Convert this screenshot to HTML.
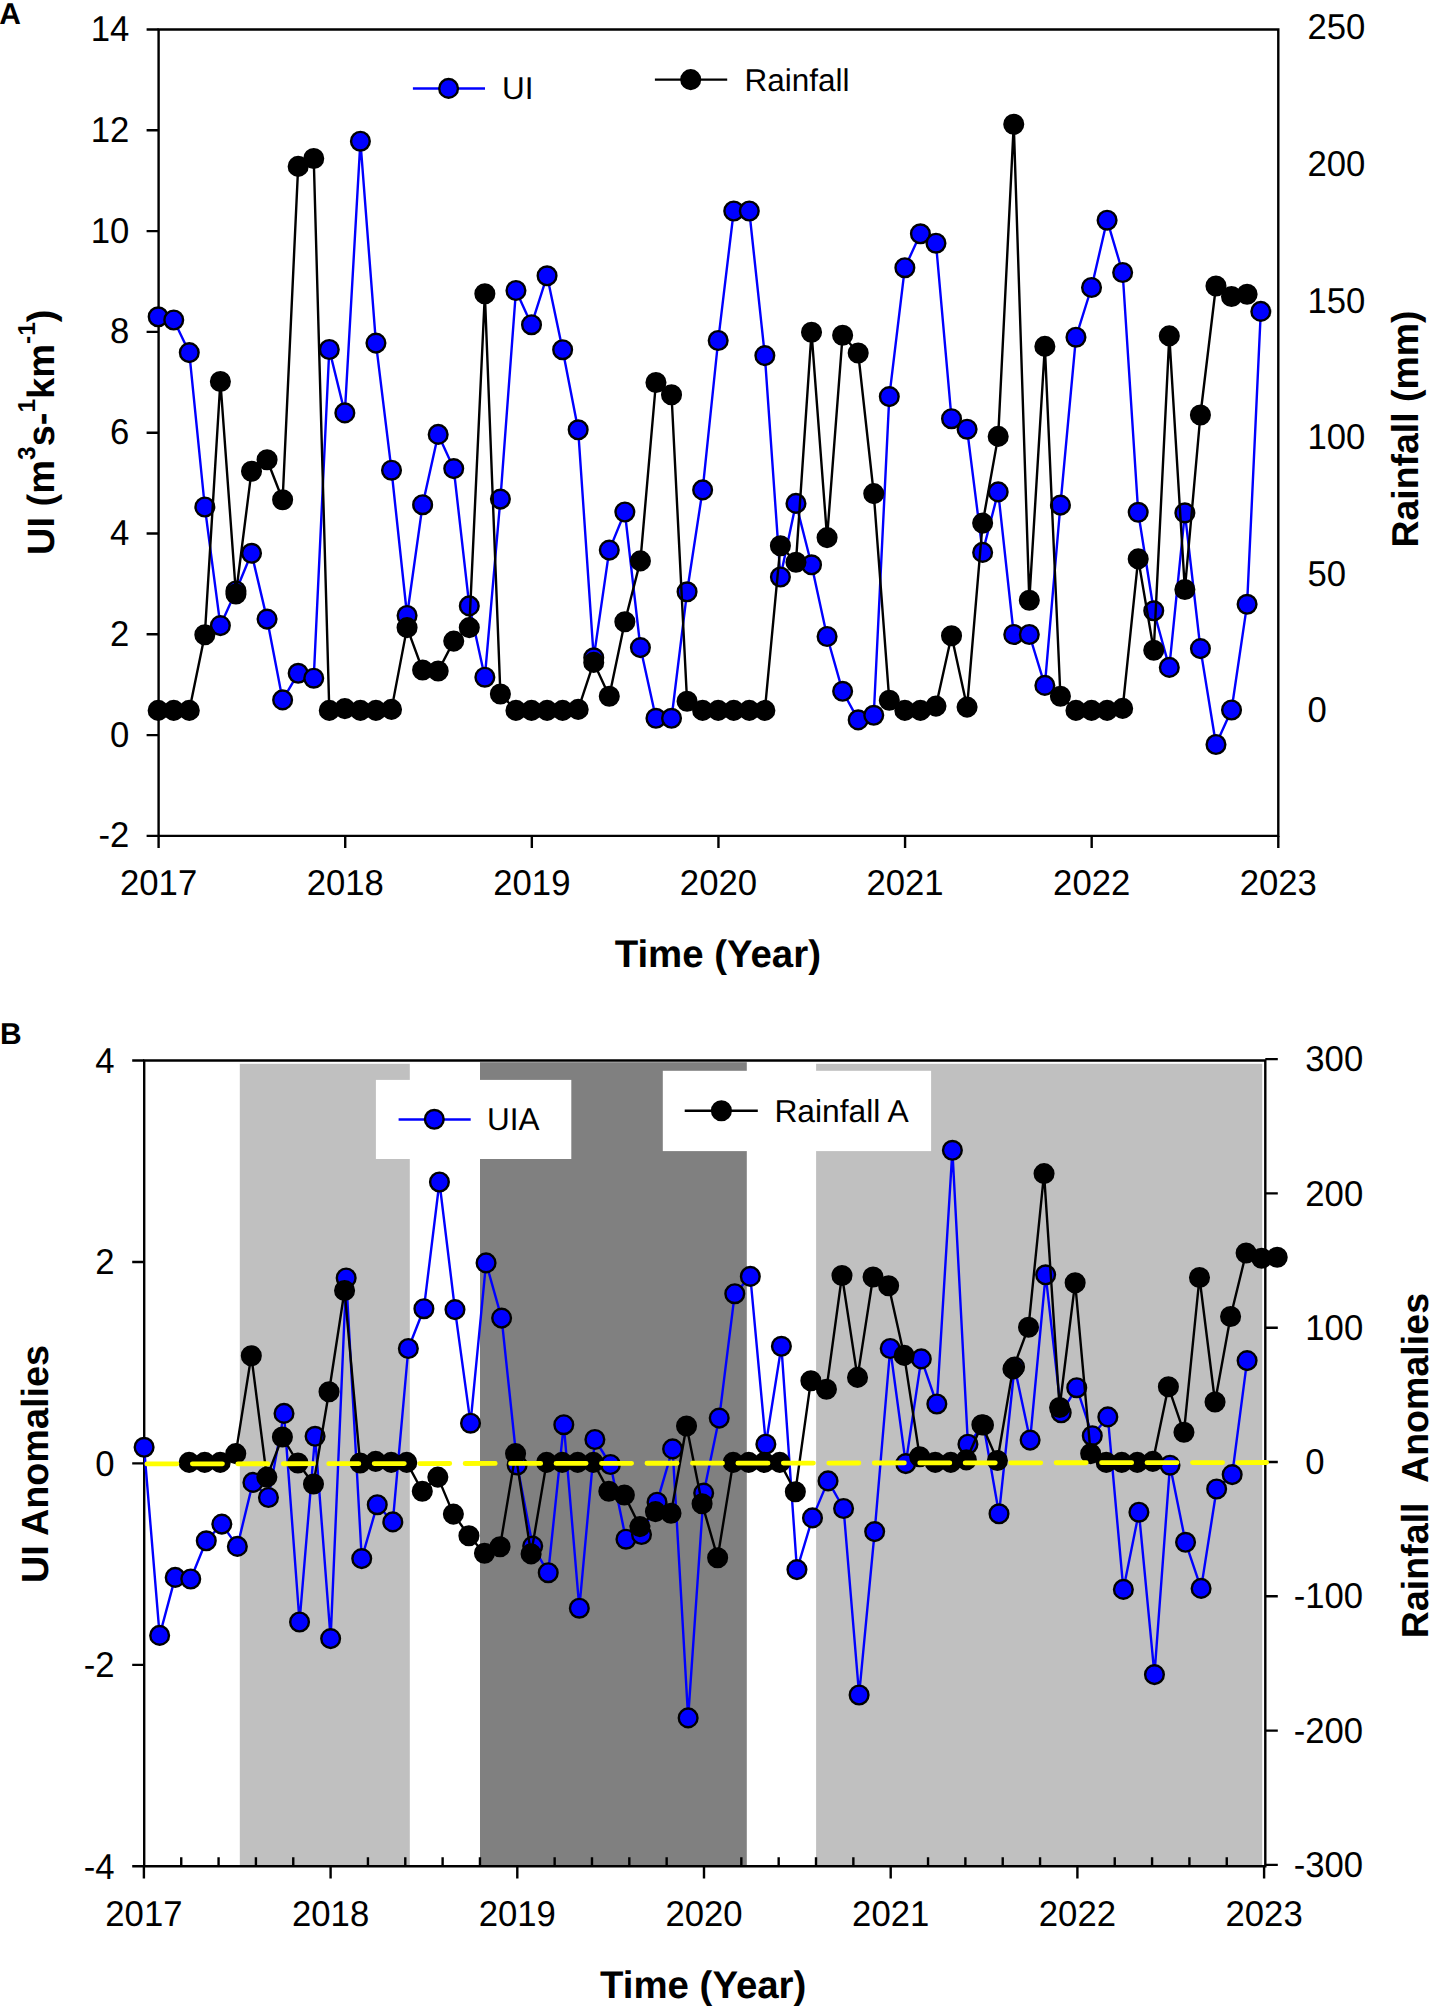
<!DOCTYPE html>
<html><head><meta charset="utf-8"><title>UI and Rainfall</title>
<style>
html,body{margin:0;padding:0;background:#fff;width:1431px;height:2009px;overflow:hidden;}
svg{display:block;}
text{font-family:"Liberation Sans",sans-serif;fill:#000;text-rendering:geometricPrecision;}
</style></head><body>
<svg width="1431" height="2009" viewBox="0 0 1431 2009">
<rect width="1431" height="2009" fill="#fff"/>
<path fill="none" stroke="#000" stroke-width="2.4" stroke-linecap="square" d="M158.6 29.5H1278.3V835.9H158.6Z"/>
<text transform="translate(129.4 40.9) scale(1 1.035)" font-size="34.7" text-anchor="end">14</text>
<text transform="translate(129.4 141.7) scale(1 1.035)" font-size="34.7" text-anchor="end">12</text>
<text transform="translate(129.4 242.5) scale(1 1.035)" font-size="34.7" text-anchor="end">10</text>
<text transform="translate(129.4 343.3) scale(1 1.035)" font-size="34.7" text-anchor="end">8</text>
<text transform="translate(129.4 444.1) scale(1 1.035)" font-size="34.7" text-anchor="end">6</text>
<text transform="translate(129.4 544.9) scale(1 1.035)" font-size="34.7" text-anchor="end">4</text>
<text transform="translate(129.4 645.7) scale(1 1.035)" font-size="34.7" text-anchor="end">2</text>
<text transform="translate(129.4 746.5) scale(1 1.035)" font-size="34.7" text-anchor="end">0</text>
<text transform="translate(129.4 847.3) scale(1 1.035)" font-size="34.7" text-anchor="end">-2</text>
<text transform="translate(158.6 895.4) scale(1 1.035)" font-size="34.7" text-anchor="middle">2017</text>
<text transform="translate(345.22 895.4) scale(1 1.035)" font-size="34.7" text-anchor="middle">2018</text>
<text transform="translate(531.83 895.4) scale(1 1.035)" font-size="34.7" text-anchor="middle">2019</text>
<text transform="translate(718.45 895.4) scale(1 1.035)" font-size="34.7" text-anchor="middle">2020</text>
<text transform="translate(905.07 895.4) scale(1 1.035)" font-size="34.7" text-anchor="middle">2021</text>
<text transform="translate(1091.68 895.4) scale(1 1.035)" font-size="34.7" text-anchor="middle">2022</text>
<text transform="translate(1278.3 895.4) scale(1 1.035)" font-size="34.7" text-anchor="middle">2023</text>
<path fill="none" stroke="#000" stroke-width="2.4" d="M146.6 29.5H158.6M146.6 130.3H158.6M146.6 231.1H158.6M146.6 331.9H158.6M146.6 432.7H158.6M146.6 533.5H158.6M146.6 634.3H158.6M146.6 735.1H158.6M146.6 835.9H158.6M158.6 835.9V848.1M345.22 835.9V848.1M531.83 835.9V848.1M718.45 835.9V848.1M905.07 835.9V848.1M1091.68 835.9V848.1M1278.3 835.9V848.1"/>
<text transform="translate(1307.5 39.2) scale(1 1.035)" font-size="34.7">250</text>
<text transform="translate(1307.5 175.85) scale(1 1.035)" font-size="34.7">200</text>
<text transform="translate(1307.5 312.5) scale(1 1.035)" font-size="34.7">150</text>
<text transform="translate(1307.5 449.15) scale(1 1.035)" font-size="34.7">100</text>
<text transform="translate(1307.5 585.8) scale(1 1.035)" font-size="34.7">50</text>
<text transform="translate(1307.5 722.45) scale(1 1.035)" font-size="34.7">0</text>
<text transform="translate(54.3,555) rotate(-90)" font-size="38" font-weight="bold">UI (m<tspan font-size="24.5" dy="-19.5">3</tspan><tspan dy="19.5">s-</tspan><tspan font-size="24.5" dy="-19.5">1</tspan><tspan dy="19.5">km</tspan><tspan font-size="24.5" dy="-19.5">-1</tspan><tspan dy="19.5">)</tspan></text>
<text transform="translate(1417.7,547.5) rotate(-90)" font-size="37.4" font-weight="bold">Rainfall (mm)</text>
<text x="717.8" y="967.3" font-size="38.4" text-anchor="middle" font-weight="bold">Time (Year)</text>
<text x="-0.7" y="23.9" font-size="30" font-weight="bold">A</text>
<line x1="412.9" y1="88.5" x2="485" y2="88.5" stroke="#0000ff" stroke-width="2.4"/>
<circle cx="448.6" cy="88.4" r="9.35" fill="#0000ff" stroke="#000" stroke-width="2.4"/>
<text x="502" y="98.8" font-size="31.5">UI</text>
<line x1="654.9" y1="79.6" x2="727.2" y2="79.6" stroke="#000" stroke-width="2.4"/>
<circle cx="690.7" cy="79.6" r="9.35" fill="#000" stroke="#000" stroke-width="2.4"/>
<text x="744.5" y="90.7" font-size="31.5">Rainfall</text>
<polyline fill="none" stroke="#0000ff" stroke-width="2.4" stroke-linejoin="round" points="158.17,316.8 173.73,320 189.28,352.6 204.84,507 220.39,625.6 235.95,591 251.51,553.3 267.06,619.1 282.62,699.9 298.17,673.3 313.73,678.2 329.29,349.5 344.84,412.9 360.4,141.2 375.95,343.1 391.51,470.2 407.07,615.5 422.62,504.7 438.18,434.4 453.73,468.6 469.29,605.9 484.85,677.2 500.4,499.1 515.96,290.5 531.51,324.7 547.07,275.8 562.63,349.7 578.18,429.8 593.74,657.8 609.29,550.1 624.85,512 640.41,647.6 655.96,718.3 671.52,718.3 687.07,591.8 702.63,489.9 718.19,340.5 733.74,211 749.3,211 764.85,355.6 780.41,577 795.97,503.4 811.52,564.8 827.08,636.5 842.63,691.3 858.19,719.9 873.75,715.3 889.3,396.6 904.86,267.7 920.41,233.8 935.97,243.2 951.53,418.7 967.08,429.2 982.64,552.4 998.19,491.9 1013.75,634.5 1029.31,634.5 1044.86,685.4 1060.42,505.1 1075.97,337.2 1091.53,287.5 1107.09,220.2 1122.64,272.5 1138.2,512.3 1153.75,610.8 1169.31,667.4 1184.87,512.9 1200.42,648.6 1215.98,744.5 1231.53,710 1247.09,604.3 1260.8,311.4"/>
<g fill="#0000ff" stroke="#000" stroke-width="2.4"><circle cx="158.17" cy="316.8" r="9.35"/><circle cx="173.73" cy="320" r="9.35"/><circle cx="189.28" cy="352.6" r="9.35"/><circle cx="204.84" cy="507" r="9.35"/><circle cx="220.39" cy="625.6" r="9.35"/><circle cx="235.95" cy="591" r="9.35"/><circle cx="251.51" cy="553.3" r="9.35"/><circle cx="267.06" cy="619.1" r="9.35"/><circle cx="282.62" cy="699.9" r="9.35"/><circle cx="298.17" cy="673.3" r="9.35"/><circle cx="313.73" cy="678.2" r="9.35"/><circle cx="329.29" cy="349.5" r="9.35"/><circle cx="344.84" cy="412.9" r="9.35"/><circle cx="360.4" cy="141.2" r="9.35"/><circle cx="375.95" cy="343.1" r="9.35"/><circle cx="391.51" cy="470.2" r="9.35"/><circle cx="407.07" cy="615.5" r="9.35"/><circle cx="422.62" cy="504.7" r="9.35"/><circle cx="438.18" cy="434.4" r="9.35"/><circle cx="453.73" cy="468.6" r="9.35"/><circle cx="469.29" cy="605.9" r="9.35"/><circle cx="484.85" cy="677.2" r="9.35"/><circle cx="500.4" cy="499.1" r="9.35"/><circle cx="515.96" cy="290.5" r="9.35"/><circle cx="531.51" cy="324.7" r="9.35"/><circle cx="547.07" cy="275.8" r="9.35"/><circle cx="562.63" cy="349.7" r="9.35"/><circle cx="578.18" cy="429.8" r="9.35"/><circle cx="593.74" cy="657.8" r="9.35"/><circle cx="609.29" cy="550.1" r="9.35"/><circle cx="624.85" cy="512" r="9.35"/><circle cx="640.41" cy="647.6" r="9.35"/><circle cx="655.96" cy="718.3" r="9.35"/><circle cx="671.52" cy="718.3" r="9.35"/><circle cx="687.07" cy="591.8" r="9.35"/><circle cx="702.63" cy="489.9" r="9.35"/><circle cx="718.19" cy="340.5" r="9.35"/><circle cx="733.74" cy="211" r="9.35"/><circle cx="749.3" cy="211" r="9.35"/><circle cx="764.85" cy="355.6" r="9.35"/><circle cx="780.41" cy="577" r="9.35"/><circle cx="795.97" cy="503.4" r="9.35"/><circle cx="811.52" cy="564.8" r="9.35"/><circle cx="827.08" cy="636.5" r="9.35"/><circle cx="842.63" cy="691.3" r="9.35"/><circle cx="858.19" cy="719.9" r="9.35"/><circle cx="873.75" cy="715.3" r="9.35"/><circle cx="889.3" cy="396.6" r="9.35"/><circle cx="904.86" cy="267.7" r="9.35"/><circle cx="920.41" cy="233.8" r="9.35"/><circle cx="935.97" cy="243.2" r="9.35"/><circle cx="951.53" cy="418.7" r="9.35"/><circle cx="967.08" cy="429.2" r="9.35"/><circle cx="982.64" cy="552.4" r="9.35"/><circle cx="998.19" cy="491.9" r="9.35"/><circle cx="1013.75" cy="634.5" r="9.35"/><circle cx="1029.31" cy="634.5" r="9.35"/><circle cx="1044.86" cy="685.4" r="9.35"/><circle cx="1060.42" cy="505.1" r="9.35"/><circle cx="1075.97" cy="337.2" r="9.35"/><circle cx="1091.53" cy="287.5" r="9.35"/><circle cx="1107.09" cy="220.2" r="9.35"/><circle cx="1122.64" cy="272.5" r="9.35"/><circle cx="1138.2" cy="512.3" r="9.35"/><circle cx="1153.75" cy="610.8" r="9.35"/><circle cx="1169.31" cy="667.4" r="9.35"/><circle cx="1184.87" cy="512.9" r="9.35"/><circle cx="1200.42" cy="648.6" r="9.35"/><circle cx="1215.98" cy="744.5" r="9.35"/><circle cx="1231.53" cy="710" r="9.35"/><circle cx="1247.09" cy="604.3" r="9.35"/><circle cx="1260.8" cy="311.4" r="9.35"/></g>
<polyline fill="none" stroke="#000" stroke-width="2.4" stroke-linejoin="round" points="158.17,710.4 173.73,710.4 189.28,710.4 204.84,634.8 220.39,381.5 235.95,594 251.51,471.2 267.06,459.7 282.62,499.8 298.17,166.4 313.73,158.5 329.29,710.4 344.84,708.6 360.4,710.4 375.95,710.4 391.51,709.4 407.07,627.6 422.62,670 438.18,671 453.73,641.1 469.29,627.6 484.85,293.8 500.4,694 515.96,710.4 531.51,710.4 547.07,710.4 562.63,710.4 578.18,709.4 593.74,662.4 609.29,696.3 624.85,621.7 640.41,560.9 655.96,382.5 671.52,394.7 687.07,701.2 702.63,710.4 718.19,710.4 733.74,710.4 749.3,710.4 764.85,710.4 780.41,545.8 795.97,562.2 811.52,332.3 827.08,537.6 842.63,335.2 858.19,353 873.75,493.6 889.3,700.3 904.86,710.4 920.41,710.4 935.97,706.1 951.53,635.8 967.08,707.1 982.64,523.1 998.19,436.4 1013.75,124.3 1029.31,600.3 1044.86,346.4 1060.42,696.3 1075.97,710.4 1091.53,710.4 1107.09,710.4 1122.64,708.4 1138.2,558.9 1153.75,650.3 1169.31,335.9 1184.87,589.5 1200.42,415 1215.98,286 1231.53,296.5 1247.09,294.2"/>
<g fill="#000" stroke="#000" stroke-width="2.4"><circle cx="158.17" cy="710.4" r="9.35"/><circle cx="173.73" cy="710.4" r="9.35"/><circle cx="189.28" cy="710.4" r="9.35"/><circle cx="204.84" cy="634.8" r="9.35"/><circle cx="220.39" cy="381.5" r="9.35"/><circle cx="235.95" cy="594" r="9.35"/><circle cx="251.51" cy="471.2" r="9.35"/><circle cx="267.06" cy="459.7" r="9.35"/><circle cx="282.62" cy="499.8" r="9.35"/><circle cx="298.17" cy="166.4" r="9.35"/><circle cx="313.73" cy="158.5" r="9.35"/><circle cx="329.29" cy="710.4" r="9.35"/><circle cx="344.84" cy="708.6" r="9.35"/><circle cx="360.4" cy="710.4" r="9.35"/><circle cx="375.95" cy="710.4" r="9.35"/><circle cx="391.51" cy="709.4" r="9.35"/><circle cx="407.07" cy="627.6" r="9.35"/><circle cx="422.62" cy="670" r="9.35"/><circle cx="438.18" cy="671" r="9.35"/><circle cx="453.73" cy="641.1" r="9.35"/><circle cx="469.29" cy="627.6" r="9.35"/><circle cx="484.85" cy="293.8" r="9.35"/><circle cx="500.4" cy="694" r="9.35"/><circle cx="515.96" cy="710.4" r="9.35"/><circle cx="531.51" cy="710.4" r="9.35"/><circle cx="547.07" cy="710.4" r="9.35"/><circle cx="562.63" cy="710.4" r="9.35"/><circle cx="578.18" cy="709.4" r="9.35"/><circle cx="593.74" cy="662.4" r="9.35"/><circle cx="609.29" cy="696.3" r="9.35"/><circle cx="624.85" cy="621.7" r="9.35"/><circle cx="640.41" cy="560.9" r="9.35"/><circle cx="655.96" cy="382.5" r="9.35"/><circle cx="671.52" cy="394.7" r="9.35"/><circle cx="687.07" cy="701.2" r="9.35"/><circle cx="702.63" cy="710.4" r="9.35"/><circle cx="718.19" cy="710.4" r="9.35"/><circle cx="733.74" cy="710.4" r="9.35"/><circle cx="749.3" cy="710.4" r="9.35"/><circle cx="764.85" cy="710.4" r="9.35"/><circle cx="780.41" cy="545.8" r="9.35"/><circle cx="795.97" cy="562.2" r="9.35"/><circle cx="811.52" cy="332.3" r="9.35"/><circle cx="827.08" cy="537.6" r="9.35"/><circle cx="842.63" cy="335.2" r="9.35"/><circle cx="858.19" cy="353" r="9.35"/><circle cx="873.75" cy="493.6" r="9.35"/><circle cx="889.3" cy="700.3" r="9.35"/><circle cx="904.86" cy="710.4" r="9.35"/><circle cx="920.41" cy="710.4" r="9.35"/><circle cx="935.97" cy="706.1" r="9.35"/><circle cx="951.53" cy="635.8" r="9.35"/><circle cx="967.08" cy="707.1" r="9.35"/><circle cx="982.64" cy="523.1" r="9.35"/><circle cx="998.19" cy="436.4" r="9.35"/><circle cx="1013.75" cy="124.3" r="9.35"/><circle cx="1029.31" cy="600.3" r="9.35"/><circle cx="1044.86" cy="346.4" r="9.35"/><circle cx="1060.42" cy="696.3" r="9.35"/><circle cx="1075.97" cy="710.4" r="9.35"/><circle cx="1091.53" cy="710.4" r="9.35"/><circle cx="1107.09" cy="710.4" r="9.35"/><circle cx="1122.64" cy="708.4" r="9.35"/><circle cx="1138.2" cy="558.9" r="9.35"/><circle cx="1153.75" cy="650.3" r="9.35"/><circle cx="1169.31" cy="335.9" r="9.35"/><circle cx="1184.87" cy="589.5" r="9.35"/><circle cx="1200.42" cy="415" r="9.35"/><circle cx="1215.98" cy="286" r="9.35"/><circle cx="1231.53" cy="296.5" r="9.35"/><circle cx="1247.09" cy="294.2" r="9.35"/></g>
<rect x="239.8" y="1063.8" width="170" height="802.5" fill="#c0c0c0"/>
<rect x="480.0" y="1062.2" width="266.8" height="804.1" fill="#808080"/>
<rect x="816.1" y="1063.8" width="446.1" height="802.5" fill="#c0c0c0"/>
<rect x="375.9" y="1079.9" width="195.4" height="79.1" fill="#fff"/>
<rect x="662.8" y="1070.8" width="268.3" height="80.3" fill="#fff"/>
<path fill="none" stroke="#000" stroke-width="2.4" stroke-linecap="square" d="M144.2 1060.5H1265.3V1866.3H144.2Z"/>
<text transform="translate(114.6 1073) scale(1 1.035)" font-size="34.7" text-anchor="end">4</text>
<text transform="translate(114.6 1274.45) scale(1 1.035)" font-size="34.7" text-anchor="end">2</text>
<text transform="translate(114.6 1475.9) scale(1 1.035)" font-size="34.7" text-anchor="end">0</text>
<text transform="translate(114.6 1677.35) scale(1 1.035)" font-size="34.7" text-anchor="end">-2</text>
<text transform="translate(114.6 1878.8) scale(1 1.035)" font-size="34.7" text-anchor="end">-4</text>
<text transform="translate(143.9 1926.2) scale(1 1.035)" font-size="34.7" text-anchor="middle">2017</text>
<text transform="translate(330.6 1926.2) scale(1 1.035)" font-size="34.7" text-anchor="middle">2018</text>
<text transform="translate(517.3 1926.2) scale(1 1.035)" font-size="34.7" text-anchor="middle">2019</text>
<text transform="translate(704 1926.2) scale(1 1.035)" font-size="34.7" text-anchor="middle">2020</text>
<text transform="translate(890.7 1926.2) scale(1 1.035)" font-size="34.7" text-anchor="middle">2021</text>
<text transform="translate(1077.4 1926.2) scale(1 1.035)" font-size="34.7" text-anchor="middle">2022</text>
<text transform="translate(1264.1 1926.2) scale(1 1.035)" font-size="34.7" text-anchor="middle">2023</text>
<text transform="translate(1305.3 1071.2) scale(1 1.035)" font-size="34.7">300</text>
<text transform="translate(1305.3 1205.5) scale(1 1.035)" font-size="34.7">200</text>
<text transform="translate(1305.3 1339.8) scale(1 1.035)" font-size="34.7">100</text>
<text transform="translate(1305.3 1474.1) scale(1 1.035)" font-size="34.7">0</text>
<text transform="translate(1293.74 1608.4) scale(1 1.035)" font-size="34.7">-100</text>
<text transform="translate(1293.74 1742.7) scale(1 1.035)" font-size="34.7">-200</text>
<text transform="translate(1293.74 1877) scale(1 1.035)" font-size="34.7">-300</text>
<path fill="none" stroke="#000" stroke-width="2.4" d="M132.2 1060.5H144.2M132.2 1261.95H144.2M132.2 1463.4H144.2M132.2 1664.85H144.2M132.2 1866.3H144.2M143.9 1866.3V1878.5M181.24 1866.3V1857.3M218.58 1866.3V1857.3M255.92 1866.3V1857.3M293.26 1866.3V1857.3M330.6 1866.3V1878.5M367.94 1866.3V1857.3M405.28 1866.3V1857.3M442.62 1866.3V1857.3M479.96 1866.3V1857.3M517.3 1866.3V1878.5M554.64 1866.3V1857.3M591.98 1866.3V1857.3M629.32 1866.3V1857.3M666.66 1866.3V1857.3M704 1866.3V1878.5M741.34 1866.3V1857.3M778.68 1866.3V1857.3M816.02 1866.3V1857.3M853.36 1866.3V1857.3M890.7 1866.3V1878.5M928.04 1866.3V1857.3M965.38 1866.3V1857.3M1002.72 1866.3V1857.3M1040.06 1866.3V1857.3M1077.4 1866.3V1878.5M1114.74 1866.3V1857.3M1152.08 1866.3V1857.3M1189.42 1866.3V1857.3M1226.76 1866.3V1857.3M1264.1 1866.3V1878.5M1265.3 1059.1H1277.8M1265.3 1193.4H1277.8M1265.3 1327.7H1277.8M1265.3 1462H1277.8M1265.3 1596.3H1277.8M1265.3 1730.6H1277.8M1265.3 1864.9H1277.8"/>
<text transform="translate(48.1,1583) rotate(-90)" font-size="37.8" font-weight="bold">UI Anomalies</text>
<text transform="translate(1427.7,1638.2) rotate(-90)" font-size="37.6" font-weight="bold" xml:space="preserve" style="white-space:pre">Rainfall  Anomalies</text>
<text x="703.2" y="1998" font-size="38.4" text-anchor="middle" font-weight="bold">Time (Year)</text>
<text x="0" y="1044.4" font-size="30" font-weight="bold">B</text>
<line x1="398.6" y1="1119.5" x2="470.7" y2="1119.5" stroke="#0000ff" stroke-width="2.4"/>
<circle cx="434.3" cy="1119.3" r="9.35" fill="#0000ff" stroke="#000" stroke-width="2.4"/>
<text x="487" y="1130" font-size="31.5">UIA</text>
<line x1="684.7" y1="1110.8" x2="757.8" y2="1110.8" stroke="#000" stroke-width="2.4"/>
<circle cx="721.4" cy="1110.8" r="9.35" fill="#000" stroke="#000" stroke-width="2.4"/>
<text x="774.4" y="1122.2" font-size="31.8">Rainfall A</text>
<polyline fill="none" stroke="#0000ff" stroke-width="2.4" stroke-linejoin="round" points="144.1,1447.3 159.64,1635.4 175.19,1577.4 190.73,1579 206.28,1540.8 221.82,1524.1 237.36,1546.4 252.91,1482.4 268.45,1497.5 284,1413.4 299.54,1622 315.08,1436.3 330.63,1638.6 346.17,1278 361.72,1558.6 377.26,1504.7 392.8,1521.9 408.35,1348.5 423.89,1308.7 439.44,1182 454.98,1309.6 470.52,1423.2 486.07,1262.9 501.61,1318.1 517.16,1465 532.7,1546.1 548.24,1572.7 563.79,1424.7 579.33,1608.2 594.88,1439.5 610.42,1464.5 625.96,1539.2 641.51,1534.5 657.05,1502.2 672.6,1448.9 688.14,1717.9 703.68,1493.1 719.23,1418.1 734.77,1293.7 750.32,1276.4 765.86,1444.2 781.4,1346.3 796.95,1569.6 812.49,1517.9 828.04,1480.9 843.58,1508.5 859.12,1695 874.67,1531.6 890.21,1348.5 905.76,1463.6 921.3,1358.9 936.84,1404 952.39,1150.3 967.93,1444.2 983.48,1425 999.02,1513.8 1014.56,1367 1030.11,1440.1 1045.65,1274.8 1061.2,1412.8 1076.74,1387.7 1092.28,1435.7 1107.83,1416.9 1123.37,1589.4 1138.92,1512.2 1154.46,1674.6 1170,1465.2 1185.55,1542.3 1201.09,1588.4 1216.64,1489 1232.18,1474.6 1247.1,1360.6"/>
<g fill="#0000ff" stroke="#000" stroke-width="2.4"><circle cx="144.1" cy="1447.3" r="9.35"/><circle cx="159.64" cy="1635.4" r="9.35"/><circle cx="175.19" cy="1577.4" r="9.35"/><circle cx="190.73" cy="1579" r="9.35"/><circle cx="206.28" cy="1540.8" r="9.35"/><circle cx="221.82" cy="1524.1" r="9.35"/><circle cx="237.36" cy="1546.4" r="9.35"/><circle cx="252.91" cy="1482.4" r="9.35"/><circle cx="268.45" cy="1497.5" r="9.35"/><circle cx="284" cy="1413.4" r="9.35"/><circle cx="299.54" cy="1622" r="9.35"/><circle cx="315.08" cy="1436.3" r="9.35"/><circle cx="330.63" cy="1638.6" r="9.35"/><circle cx="346.17" cy="1278" r="9.35"/><circle cx="361.72" cy="1558.6" r="9.35"/><circle cx="377.26" cy="1504.7" r="9.35"/><circle cx="392.8" cy="1521.9" r="9.35"/><circle cx="408.35" cy="1348.5" r="9.35"/><circle cx="423.89" cy="1308.7" r="9.35"/><circle cx="439.44" cy="1182" r="9.35"/><circle cx="454.98" cy="1309.6" r="9.35"/><circle cx="470.52" cy="1423.2" r="9.35"/><circle cx="486.07" cy="1262.9" r="9.35"/><circle cx="501.61" cy="1318.1" r="9.35"/><circle cx="517.16" cy="1465" r="9.35"/><circle cx="532.7" cy="1546.1" r="9.35"/><circle cx="548.24" cy="1572.7" r="9.35"/><circle cx="563.79" cy="1424.7" r="9.35"/><circle cx="579.33" cy="1608.2" r="9.35"/><circle cx="594.88" cy="1439.5" r="9.35"/><circle cx="610.42" cy="1464.5" r="9.35"/><circle cx="625.96" cy="1539.2" r="9.35"/><circle cx="641.51" cy="1534.5" r="9.35"/><circle cx="657.05" cy="1502.2" r="9.35"/><circle cx="672.6" cy="1448.9" r="9.35"/><circle cx="688.14" cy="1717.9" r="9.35"/><circle cx="703.68" cy="1493.1" r="9.35"/><circle cx="719.23" cy="1418.1" r="9.35"/><circle cx="734.77" cy="1293.7" r="9.35"/><circle cx="750.32" cy="1276.4" r="9.35"/><circle cx="765.86" cy="1444.2" r="9.35"/><circle cx="781.4" cy="1346.3" r="9.35"/><circle cx="796.95" cy="1569.6" r="9.35"/><circle cx="812.49" cy="1517.9" r="9.35"/><circle cx="828.04" cy="1480.9" r="9.35"/><circle cx="843.58" cy="1508.5" r="9.35"/><circle cx="859.12" cy="1695" r="9.35"/><circle cx="874.67" cy="1531.6" r="9.35"/><circle cx="890.21" cy="1348.5" r="9.35"/><circle cx="905.76" cy="1463.6" r="9.35"/><circle cx="921.3" cy="1358.9" r="9.35"/><circle cx="936.84" cy="1404" r="9.35"/><circle cx="952.39" cy="1150.3" r="9.35"/><circle cx="967.93" cy="1444.2" r="9.35"/><circle cx="983.48" cy="1425" r="9.35"/><circle cx="999.02" cy="1513.8" r="9.35"/><circle cx="1014.56" cy="1367" r="9.35"/><circle cx="1030.11" cy="1440.1" r="9.35"/><circle cx="1045.65" cy="1274.8" r="9.35"/><circle cx="1061.2" cy="1412.8" r="9.35"/><circle cx="1076.74" cy="1387.7" r="9.35"/><circle cx="1092.28" cy="1435.7" r="9.35"/><circle cx="1107.83" cy="1416.9" r="9.35"/><circle cx="1123.37" cy="1589.4" r="9.35"/><circle cx="1138.92" cy="1512.2" r="9.35"/><circle cx="1154.46" cy="1674.6" r="9.35"/><circle cx="1170" cy="1465.2" r="9.35"/><circle cx="1185.55" cy="1542.3" r="9.35"/><circle cx="1201.09" cy="1588.4" r="9.35"/><circle cx="1216.64" cy="1489" r="9.35"/><circle cx="1232.18" cy="1474.6" r="9.35"/><circle cx="1247.1" cy="1360.6" r="9.35"/></g>
<polyline fill="none" stroke="#000" stroke-width="2.4" stroke-linejoin="round" points="189.13,1462.4 204.68,1462.4 220.22,1462.4 235.76,1453.6 251.31,1355.7 266.85,1477.1 282.4,1437 297.94,1463 313.48,1484 329.03,1391.8 344.57,1290.5 360.12,1463 375.66,1461.4 391.2,1462.4 406.75,1462.4 422.29,1491.2 437.84,1477.1 453.38,1514.1 468.92,1535.7 484.47,1553.3 500.01,1546.7 515.56,1453.6 531.1,1553.9 546.64,1462.4 562.19,1462.4 577.73,1462.4 593.28,1462.4 608.82,1491.2 624.36,1495 639.91,1526.6 655.45,1511.6 671,1513.2 686.54,1426 702.08,1503.7 717.63,1557.7 733.17,1462.4 748.72,1462.4 764.26,1462.4 779.8,1462.4 795.35,1491.8 810.89,1380.8 826.44,1389.3 841.98,1275.5 857.52,1377.4 873.07,1277 888.61,1285.8 904.16,1355.4 919.7,1456.7 935.24,1462.4 950.79,1462.4 966.33,1459.9 981.88,1424.7 997.42,1460.5 1012.96,1368.9 1028.51,1327.2 1044.05,1173.6 1059.6,1407.5 1075.14,1282.7 1090.68,1453.6 1106.23,1462.4 1121.77,1462.4 1137.32,1462.4 1152.86,1461.4 1168.4,1386.8 1183.95,1432.3 1199.49,1277.5 1215.04,1402 1230.58,1316.5 1246.12,1253 1261.67,1258.3 1277.21,1257.2"/>
<g fill="#000" stroke="#000" stroke-width="2.4"><circle cx="189.13" cy="1462.4" r="9.35"/><circle cx="204.68" cy="1462.4" r="9.35"/><circle cx="220.22" cy="1462.4" r="9.35"/><circle cx="235.76" cy="1453.6" r="9.35"/><circle cx="251.31" cy="1355.7" r="9.35"/><circle cx="266.85" cy="1477.1" r="9.35"/><circle cx="282.4" cy="1437" r="9.35"/><circle cx="297.94" cy="1463" r="9.35"/><circle cx="313.48" cy="1484" r="9.35"/><circle cx="329.03" cy="1391.8" r="9.35"/><circle cx="344.57" cy="1290.5" r="9.35"/><circle cx="360.12" cy="1463" r="9.35"/><circle cx="375.66" cy="1461.4" r="9.35"/><circle cx="391.2" cy="1462.4" r="9.35"/><circle cx="406.75" cy="1462.4" r="9.35"/><circle cx="422.29" cy="1491.2" r="9.35"/><circle cx="437.84" cy="1477.1" r="9.35"/><circle cx="453.38" cy="1514.1" r="9.35"/><circle cx="468.92" cy="1535.7" r="9.35"/><circle cx="484.47" cy="1553.3" r="9.35"/><circle cx="500.01" cy="1546.7" r="9.35"/><circle cx="515.56" cy="1453.6" r="9.35"/><circle cx="531.1" cy="1553.9" r="9.35"/><circle cx="546.64" cy="1462.4" r="9.35"/><circle cx="562.19" cy="1462.4" r="9.35"/><circle cx="577.73" cy="1462.4" r="9.35"/><circle cx="593.28" cy="1462.4" r="9.35"/><circle cx="608.82" cy="1491.2" r="9.35"/><circle cx="624.36" cy="1495" r="9.35"/><circle cx="639.91" cy="1526.6" r="9.35"/><circle cx="655.45" cy="1511.6" r="9.35"/><circle cx="671" cy="1513.2" r="9.35"/><circle cx="686.54" cy="1426" r="9.35"/><circle cx="702.08" cy="1503.7" r="9.35"/><circle cx="717.63" cy="1557.7" r="9.35"/><circle cx="733.17" cy="1462.4" r="9.35"/><circle cx="748.72" cy="1462.4" r="9.35"/><circle cx="764.26" cy="1462.4" r="9.35"/><circle cx="779.8" cy="1462.4" r="9.35"/><circle cx="795.35" cy="1491.8" r="9.35"/><circle cx="810.89" cy="1380.8" r="9.35"/><circle cx="826.44" cy="1389.3" r="9.35"/><circle cx="841.98" cy="1275.5" r="9.35"/><circle cx="857.52" cy="1377.4" r="9.35"/><circle cx="873.07" cy="1277" r="9.35"/><circle cx="888.61" cy="1285.8" r="9.35"/><circle cx="904.16" cy="1355.4" r="9.35"/><circle cx="919.7" cy="1456.7" r="9.35"/><circle cx="935.24" cy="1462.4" r="9.35"/><circle cx="950.79" cy="1462.4" r="9.35"/><circle cx="966.33" cy="1459.9" r="9.35"/><circle cx="981.88" cy="1424.7" r="9.35"/><circle cx="997.42" cy="1460.5" r="9.35"/><circle cx="1012.96" cy="1368.9" r="9.35"/><circle cx="1028.51" cy="1327.2" r="9.35"/><circle cx="1044.05" cy="1173.6" r="9.35"/><circle cx="1059.6" cy="1407.5" r="9.35"/><circle cx="1075.14" cy="1282.7" r="9.35"/><circle cx="1090.68" cy="1453.6" r="9.35"/><circle cx="1106.23" cy="1462.4" r="9.35"/><circle cx="1121.77" cy="1462.4" r="9.35"/><circle cx="1137.32" cy="1462.4" r="9.35"/><circle cx="1152.86" cy="1461.4" r="9.35"/><circle cx="1168.4" cy="1386.8" r="9.35"/><circle cx="1183.95" cy="1432.3" r="9.35"/><circle cx="1199.49" cy="1277.5" r="9.35"/><circle cx="1215.04" cy="1402" r="9.35"/><circle cx="1230.58" cy="1316.5" r="9.35"/><circle cx="1246.12" cy="1253" r="9.35"/><circle cx="1261.67" cy="1258.3" r="9.35"/><circle cx="1277.21" cy="1257.2" r="9.35"/></g>
<line x1="146.9" y1="1463.9" x2="1266.6" y2="1462.5" stroke="#ffff00" stroke-width="4.8" stroke-linecap="round" stroke-dasharray="30.1 15.36"/>
</svg>
</body></html>
